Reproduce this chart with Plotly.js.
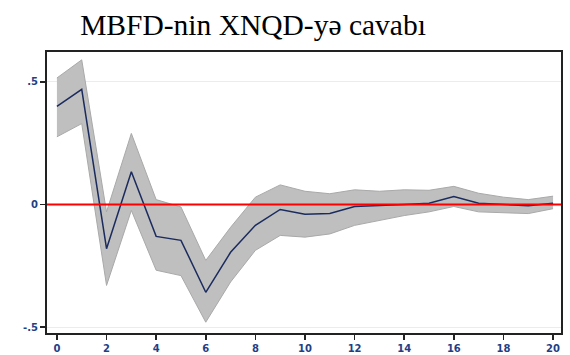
<!DOCTYPE html>
<html>
<head>
<meta charset="utf-8">
<script src="https://cdn.plot.ly/plotly-3.0.1.min.js"></script>
<style>html,body{margin:0;padding:0;background:#fff;}#chart{width:570px;height:355px;}</style>
</head>
<body>
<div id="chart"></div>
<script>
const steps = [0,1,2,3,4,5,6,7,8,9,10,11,12,13,14,15,16,17,18,19,20];
const irf   = [0.40,0.47,-0.18,0.134,-0.13,-0.146,-0.358,-0.195,-0.085,-0.02,-0.04,-0.037,-0.008,-0.005,0.0,0.005,0.033,0.005,0.0,-0.005,0.005];
const upper = [0.516,0.59,-0.03,0.29,0.02,-0.01,-0.228,-0.093,0.03,0.08,0.054,0.044,0.06,0.054,0.06,0.058,0.074,0.046,0.03,0.02,0.034];
const lower = [0.276,0.33,-0.33,-0.024,-0.268,-0.29,-0.48,-0.316,-0.187,-0.126,-0.133,-0.12,-0.085,-0.065,-0.045,-0.03,-0.008,-0.03,-0.035,-0.037,-0.017];
const yTickVals = [-0.5,0,0.5];
const yTickText = ['-.5','0','.5'];
const xTickVals = [0,2,4,6,8,10,12,14,16,18,20];

const tickFont = {family:'DejaVu Sans, Verdana, sans-serif', size:10, color:'#1f3f86', weight:'bold'};

const traces = [
  {x:steps, y:lower, mode:'lines', line:{color:'#a9a9a9', width:1}, hoverinfo:'skip', showlegend:false},
  {x:steps, y:upper, mode:'lines', fill:'tonexty', fillcolor:'#bfbfbf', line:{color:'#a9a9a9', width:1}, hoverinfo:'skip', showlegend:false},
  {x:steps, y:irf, mode:'lines', line:{color:'#1b2b5e', width:1.5}, showlegend:false},
  {x:[-0.4,20.32], y:[0,0], mode:'lines', line:{color:'#ff0000', width:2}, showlegend:false}
];

const layout = {
  width:570, height:355,
  margin:{l:47, r:9, t:52, b:22},
  paper_bgcolor:'#ffffff', plot_bgcolor:'#ffffff',
  title:{text:'MBFD-nin XNQD-yə cavabı', font:{family:'Liberation Serif, Times New Roman, serif', size:29.5, color:'#000'}, xref:'container', x:253/570, xanchor:'center', yref:'container', y:1-25/355, yanchor:'middle'},
  xaxis:{range:[-0.4,20.32], tickvals:xTickVals, ticks:'outside', ticklen:5, tickwidth:1.5, tickcolor:'#222', showline:true, linecolor:'#222', linewidth:2, mirror:true, showgrid:false, zeroline:false, tickfont:tickFont},
  yaxis:{range:[-0.524,0.622], tickvals:yTickVals, ticktext:yTickText, ticks:'outside', ticklen:5, tickwidth:1.5, tickcolor:'#222', showline:true, linecolor:'#222', linewidth:2, mirror:true, showgrid:true, gridcolor:'#e4eef6', gridwidth:1, zeroline:false, tickfont:tickFont}
};

Plotly.newPlot('chart', traces, layout, {displayModeBar:false, staticPlot:true});
</script>
</body>
</html>
